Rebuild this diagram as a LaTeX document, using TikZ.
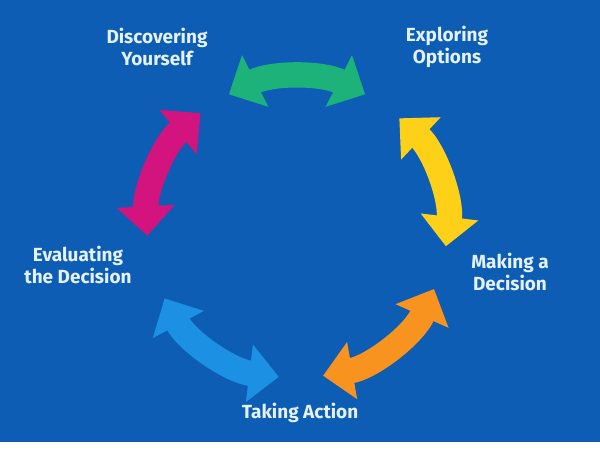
\documentclass[tikz,border=0pt]{standalone}
\usepackage{fontspec}
\setsansfont{Fira Sans}
\usetikzlibrary{arrows.meta}
\definecolor{bgblue}{HTML}{0D5DB4}
\definecolor{labeltext}{HTML}{E4F2FF}
\definecolor{cgreen}{HTML}{1DB27A}
\definecolor{cyellow}{HTML}{FFD018}
\definecolor{corange}{HTML}{F7931E}
\definecolor{cblue}{HTML}{1C90E2}
\definecolor{cmagenta}{HTML}{D3137E}
\tikzset{
  steplabel/.style={text=labeltext, align=center, font=\sffamily\bfseries\fontsize{27}{32}\selectfont},
  cyclearrow/.style={line width=36pt, {Triangle[width=80pt,length=42pt]}-{Triangle[width=80pt,length=42pt]}}
}
\begin{document}
\begin{tikzpicture}[x=0.5mm,y=0.5mm]
    %% background
    \fill[white] (0,0) rectangle (600,450);
    \fill[bgblue] (0,8) rectangle (600,450);
    \coordinate (hub) at (297,222);
    %% the five arrows round the cycle
    \draw[cyclearrow, draw=cgreen] (hub) ++(117:150) arc[start angle=117, end angle=63, radius=150];
    \draw[cyclearrow, draw=cyellow] (hub) ++(47:150) arc[start angle=47, end angle=-7, radius=150];
    \draw[cyclearrow, draw=corange] (hub) ++(-24:150) arc[start angle=-24, end angle=-80, radius=150];
    \draw[cyclearrow, draw=cblue] (hub) ++(-97:150) arc[start angle=-97, end angle=-152, radius=150];
    \draw[cyclearrow, draw=cmagenta] (hub) ++(-177:150) arc[start angle=-177, end angle=-230, radius=150];
    %% labels
    \node[steplabel] (discover) at (157,403) {Discovering\\Yourself};
    \node[steplabel] (explore) at (447,403) {Exploring\\Options};
    \node[steplabel] (decide) at (510,178) {Making a\\Decision};
    \node[steplabel] (evaluate) at (78,185) {Evaluating\\the Decision};
    \node[steplabel] (action) at (300,37) {Taking Action};
\end{tikzpicture}
\end{document}
